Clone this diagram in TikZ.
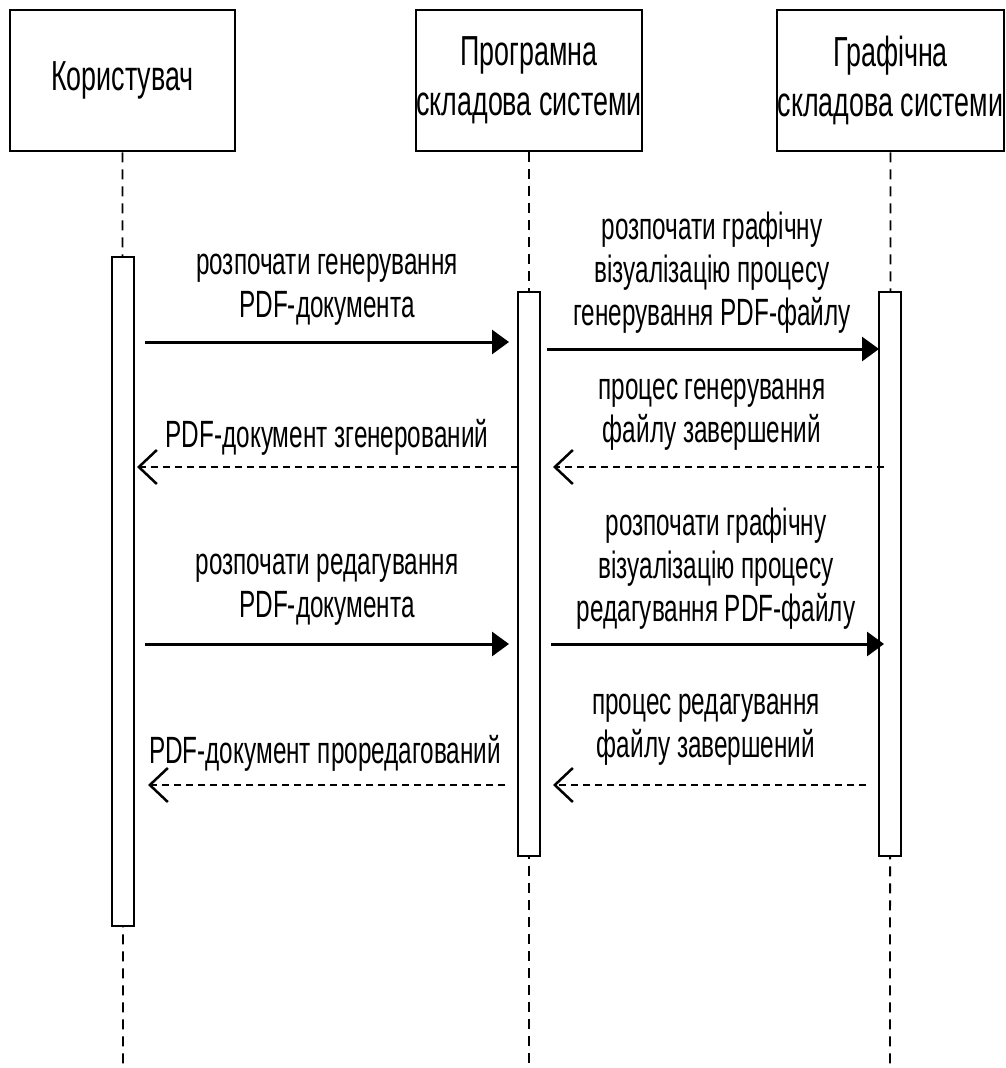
\documentclass[tikz,border=0pt]{standalone}
\usepackage{fontspec}
\setmainfont{Liberation Sans}[FakeStretch=0.64]
\usetikzlibrary{arrows.meta}
\begin{document}
\begin{tikzpicture}[x=1pt,y=-1pt,
  head/.style={draw, line width=2.5pt, fill=white, minimum width=225pt, minimum height=141pt, inner sep=0pt,
    font=\fontsize{42}{50}\selectfont, align=center},
  act/.style={draw, line width=2.5pt, fill=white, minimum width=22pt, inner sep=0pt},
  life/.style={line width=1.8pt, dash pattern=on 10pt off 7pt},
  call/.style={line width=3pt, -{Triangle[length=17pt,width=24pt]}},
  reply/.style={line width=2.5pt, dash pattern=on 7pt off 5pt, -{Straight Barb[length=18pt,width=34pt,line width=2.5pt]}},
  lbl/.style={font=\fontsize{38}{43}\selectfont, align=center, inner sep=0pt}]
\useasboundingbox (0,0) rectangle (1006,1068);
\fill[white] (0,0) rectangle (1006,1068);
% lifelines
\coordinate (uend) at (123,1068);
\coordinate (pend) at (529,1068);
\coordinate (gend) at (890,1068);
\node[head] (u) at (122.5,80.5) {Користувач};
\node[head] (p) at (529,80.5) {Програмна\\складова системи};
\node[head, minimum width=227pt] (g) at (890.5,80.5) {Графічна\\складова системи};
\draw[life] (u.south) -- (uend);
\draw[life] (p.south) -- (pend);
\draw[life] (g.south) -- (gend);
% activations
\node[act, minimum height=669pt] (a1) at (123,591.5) {};
\node[act, minimum height=564pt] (a2) at (529,574) {};
\node[act, minimum height=564pt] (a3) at (890,574) {};
% arrow endpoints
\coordinate (m1s) at (145,342); \coordinate (m1e) at (509,342);
\coordinate (m2s) at (547,349); \coordinate (m2e) at (879,349);
\coordinate (m3s) at (884,467); \coordinate (m3e) at (553,467);
\coordinate (m4s) at (518,467); \coordinate (m4e) at (137,467);
\coordinate (m5s) at (145,644); \coordinate (m5e) at (509,644);
\coordinate (m6s) at (551,644); \coordinate (m6e) at (884,644);
\coordinate (m7s) at (866,785); \coordinate (m7e) at (553,785);
\coordinate (m8s) at (505,785); \coordinate (m8e) at (148,785);
\draw[call] (m1s) -- (m1e);
\draw[call] (m2s) -- (m2e);
\draw[reply] (m3s) -- (m3e);
\draw[reply] (m4s) -- (m4e);
\draw[call] (m5s) -- (m5e);
\draw[call] (m6s) -- (m6e);
\draw[reply] (m7s) -- (m7e);
\draw[reply] (m8s) -- (m8e);
% labels
\node[lbl] (l1) at (327,290) {розпочати генерування\\PDF-документа};
\node[lbl] (l2) at (712,273) {розпочати графічну\\візуалізацію процесу\\генерування PDF-файлу};
\node[lbl] (l3) at (712,415) {процес генерування\\файлу завершений};
\node[lbl] (l4) at (327,437) {PDF-документ згенерований};
\node[lbl] (l5) at (327,590) {розпочати редагування\\PDF-документа};
\node[lbl] (l6) at (716,569) {розпочати графічну\\візуалізацію процесу\\редагування PDF-файлу};
\node[lbl] (l7) at (706,730) {процес редагування\\файлу завершений};
\node[lbl] (l8) at (325,753) {PDF-документ проредагований};
\end{tikzpicture}
\end{document}
